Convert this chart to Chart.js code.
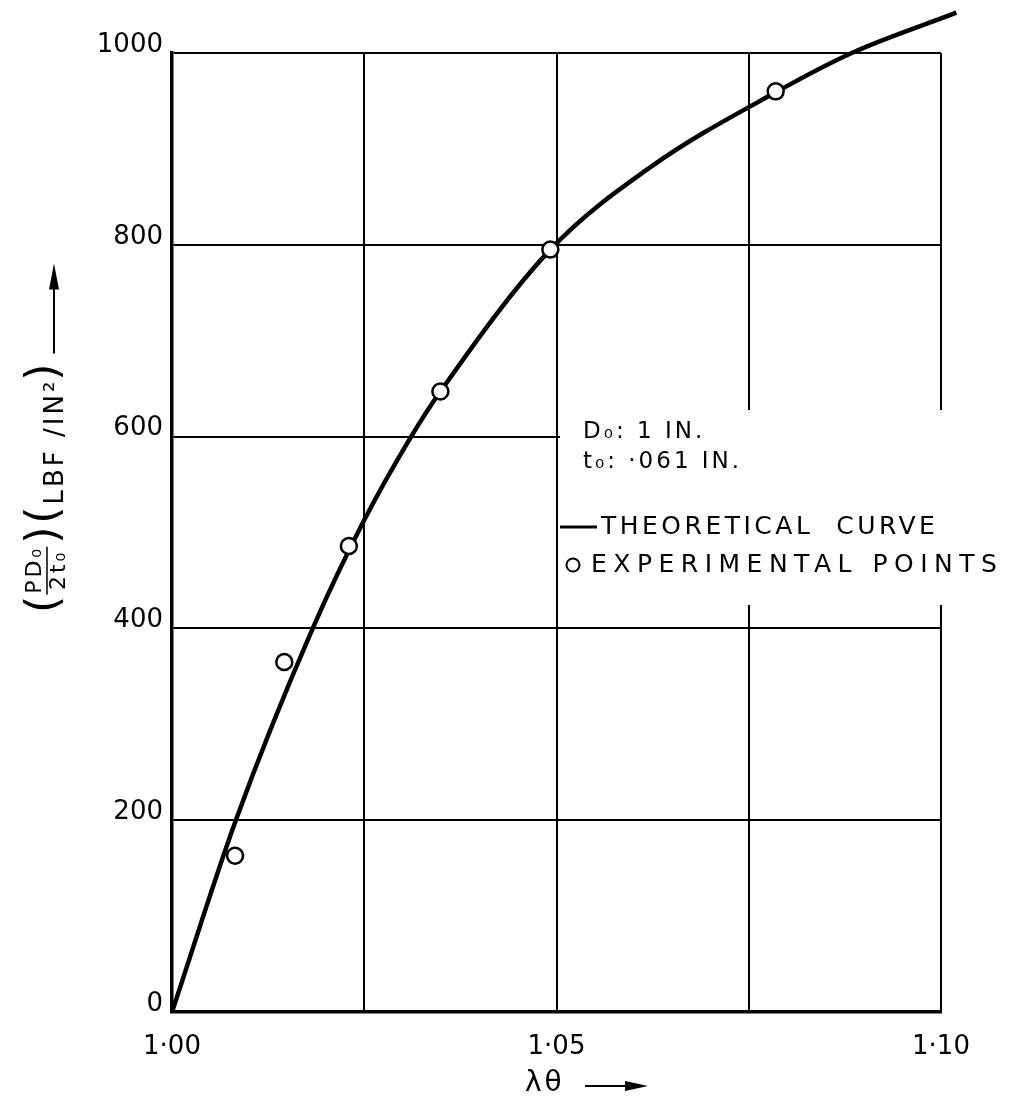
<!DOCTYPE html>
<html>
<head>
<meta charset="utf-8">
<script src="https://cdn.jsdelivr.net/npm/chart.js@4.4.1/dist/chart.umd.min.js"></script>
<style>
  html, body { margin: 0; padding: 0; background: #fff; }
  #wrap { width: 1025px; height: 1102px; }
</style>
</head>
<body>
<div id="wrap"><canvas id="stretchChart" width="1025" height="1102"></canvas></div>
<script>
// hoop stretch ratio vs. PDo/2to (lbf/in^2)
const curveLambda = [1.000, 1.0083, 1.0183, 1.025, 1.0311, 1.0349, 1.0492, 1.0624, 1.0785, 1.0884, 1.102];
const curveStress = [0, 200, 400, 513, 600, 647, 795, 882, 959, 1000, 1042];

const expLambda = [1.0082, 1.0146, 1.023, 1.0349, 1.0492, 1.0785];
const expStress = [163, 365, 486, 647, 795, 960];

const xLabelValues = [1.00, 1.05, 1.10];
const xLabelTexts = ['1·00', '1·05', '1·10'];
const yTickLabels = ['0', '200', '400', '600', '800', '1000'];

const FONT = 'DejaVu Sans';

const toPoints = (xs, ys) => xs.map((x, i) => ({ x: x, y: ys[i] }));

// blank out the grid behind the notes, like the original drawing
const notesBackground = {
  id: 'notesBackground',
  beforeDatasetsDraw(chart) {
    const ctx = chart.ctx;
    ctx.save();
    ctx.fillStyle = '#fff';
    ctx.fillRect(560, 410, 465, 195);
    ctx.restore();
  }
};

const notes = {
  id: 'notes',
  afterDraw(chart) {
    const ctx = chart.ctx;
    ctx.save();
    ctx.fillStyle = '#000';
    ctx.strokeStyle = '#000';
    ctx.textBaseline = 'middle';
    ctx.textAlign = 'left';
    ctx.font = '23px ' + FONT;
    ctx.letterSpacing = '3px';
    ctx.fillText('D₀: 1 IN.', 583, 432);
    ctx.fillText('t₀: ·061 IN.', 583, 462);

    // legend rows
    ctx.font = '25px ' + FONT;
    ctx.letterSpacing = '3.5px';
    ctx.lineWidth = 3;
    ctx.beginPath();
    ctx.moveTo(560, 527);
    ctx.lineTo(597, 527);
    ctx.stroke();
    ctx.fillText('THEORETICAL  CURVE', 601, 527);

    ctx.lineWidth = 2;
    ctx.beginPath();
    ctx.arc(573, 565, 6.5, 0, Math.PI * 2);
    ctx.stroke();
    ctx.letterSpacing = '6.5px';
    ctx.fillText('EXPERIMENTAL POINTS', 591, 565);
    ctx.restore();

    drawYTitle(ctx);
    drawXTitle(ctx);
  }
};

function drawXTitle(ctx) {
  ctx.save();
  ctx.fillStyle = '#000';
  ctx.strokeStyle = '#000';
  ctx.textBaseline = 'middle';
  ctx.textAlign = 'left';
  ctx.font = '28px ' + FONT;
  ctx.letterSpacing = '3px';
  ctx.fillText('λθ', 525, 1084);
  ctx.lineWidth = 2;
  ctx.beginPath();
  ctx.moveTo(585, 1086);
  ctx.lineTo(630, 1086);
  ctx.stroke();
  ctx.beginPath();
  ctx.moveTo(648, 1086);
  ctx.lineTo(625, 1081);
  ctx.lineTo(625, 1091);
  ctx.closePath();
  ctx.fill();
  ctx.restore();
}

function drawYTitle(ctx) {
  ctx.save();
  ctx.translate(50, 613);
  ctx.rotate(-Math.PI / 2);
  ctx.fillStyle = '#000';
  ctx.strokeStyle = '#000';
  ctx.textBaseline = 'middle';
  ctx.textAlign = 'left';
  let x = 0;

  const paren = (ch) => {
    ctx.font = '44px ' + FONT;
    ctx.letterSpacing = '0px';
    ctx.fillText(ch, x, -4);
    x += ctx.measureText(ch).width;
  };

  paren('(');
  // fraction  P D0 / 2 t0
  ctx.font = '22px ' + FONT;
  ctx.letterSpacing = '3px';
  const num = 'PD₀', den = '2t₀';
  const w = Math.max(ctx.measureText(num).width, ctx.measureText(den).width);
  ctx.textAlign = 'center';
  ctx.fillText(num, x + w / 2 + 2, -15);
  ctx.fillText(den, x + w / 2 + 2, 9);
  ctx.lineWidth = 1.5;
  ctx.beginPath();
  ctx.moveTo(x + 1, -3);
  ctx.lineTo(x + w + 1, -3);
  ctx.stroke();
  ctx.textAlign = 'left';
  x += w + 4;
  paren(')');
  x += 3;
  paren('(');
  ctx.font = '26px ' + FONT;
  ctx.letterSpacing = '3px';
  ctx.fillText('LBF /IN²', x + 2, 6);
  x += ctx.measureText('LBF /IN²').width;
  paren(')');
  x += 10;

  // arrow
  ctx.lineWidth = 2;
  ctx.beginPath();
  ctx.moveTo(x, 4);
  ctx.lineTo(x + 70, 4);
  ctx.stroke();
  ctx.beginPath();
  ctx.moveTo(x + 90, 4);
  ctx.lineTo(x + 64, -1);
  ctx.lineTo(x + 64, 9);
  ctx.closePath();
  ctx.fill();
  ctx.restore();
}

new Chart(document.getElementById('stretchChart'), {
  type: 'line',
  data: {
    datasets: [
      {
        label: 'EXPERIMENTAL POINTS',
        data: toPoints(expLambda, expStress),
        showLine: false,
        pointRadius: 8,
        pointBackgroundColor: '#fff',
        pointBorderColor: '#000',
        pointBorderWidth: 2.5,
        order: 1
      },
      {
        label: 'THEORETICAL CURVE',
        data: toPoints(curveLambda, curveStress),
        borderColor: '#000',
        borderWidth: 4.5,
        pointRadius: 0,
        cubicInterpolationMode: 'monotone',
        fill: false,
        clip: false,
        order: 2
      }
    ]
  },
  options: {
    responsive: false,
    animation: false,
    devicePixelRatio: 1,
    layout: { padding: { left: 0, right: 84, top: 53, bottom: 0 } },
    plugins: {
      legend: { display: false },
      tooltip: { enabled: false }
    },
    scales: {
      x: {
        type: 'linear',
        min: 1.0,
        max: 1.10,
        afterFit: (s) => { s.height = 90; },
        ticks: {
          stepSize: 0.025,
          autoSkip: false,
          maxRotation: 0,
          padding: 20,
          color: '#000',
          font: { family: FONT, size: 26 },
          callback: (v) => {
            const i = xLabelValues.findIndex(t => Math.abs(t - v) < 1e-6);
            return i >= 0 ? xLabelTexts[i] : '';
          }
        },
        grid: { color: '#000', lineWidth: 2, drawTicks: false },
        border: { color: '#000', width: 3.5 }
      },
      y: {
        min: 0,
        max: 1000,
        afterFit: (s) => { s.width = 172; },
        ticks: {
          stepSize: 200,
          padding: 9,
          labelOffset: -8,
          color: '#000',
          font: { family: FONT, size: 26 },
          callback: (v) => yTickLabels[Math.round(v / 200)] ?? ''
        },
        grid: { color: '#000', lineWidth: 2, drawTicks: false },
        border: { color: '#000', width: 3.5 }
      }
    }
  },
  plugins: [notesBackground, notes]
});
</script>
</body>
</html>
